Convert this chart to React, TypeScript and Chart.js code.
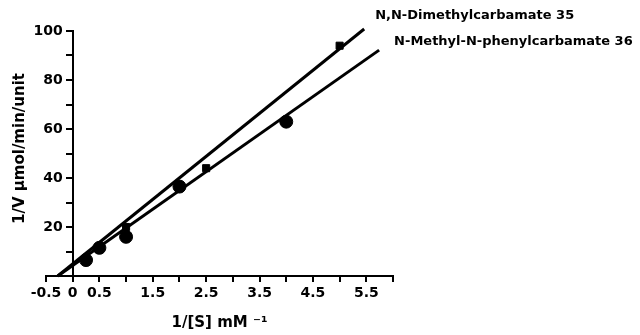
import React, { useEffect, useRef } from "react";
import { Chart, registerables } from "chart.js";

Chart.register(...registerables);

// Tick labels
const xTickLabels = [-0.5, 0, 0.5, 1.5, 2.5, 3.5, 4.5, 5.5];
const yTickLabels = [20, 40, 60, 80, 100];

// Series names
const seriesNames = ["N,N-Dimethylcarbamate 35", "N-Methyl-N-phenylcarbamate 36"];

// Measured points (1/[S], 1/V)
const dimethylX = [0.25, 0.5, 1, 2.5, 5];
const dimethylY = [6, 12, 20, 44, 94];
const phenylX = [0.25, 0.5, 1, 2, 4];
const phenylY = [6.5, 11.5, 16, 36.5, 63];

// Fitted lines (end points)
const dimethylFitX = [-0.28, 5.46];
const dimethylFitY = [0, 100.8];
const phenylFitX = [-0.28, 5.74];
const phenylFitY = [0, 92.2];

const xTitle = "1/[S] mM \u207B\u00B9";
const yTitle = "1/V \u00B5mol/min/unit";

const FONT = "DejaVu Sans";

const toPts = (xs: number[], ys: number[]) => xs.map((x, i) => ({ x, y: ys[i] }));

const annotatePlugin = {
  id: "annotate",
  afterDatasetsDraw(chart: any) {
    const { ctx, scales, chartArea } = chart;
    const x = scales.x;
    const y = scales.y;
    ctx.save();
    ctx.fillStyle = "#000";
    ctx.font = `bold 13px "${FONT}"`;
    ctx.textBaseline = "middle";
    ctx.textAlign = "left";
    const ends = [
      { px: dimethylFitX[1], py: dimethylFitY[1], dx: 11, dy: -13, text: seriesNames[0] },
      { px: phenylFitX[1], py: phenylFitY[1], dx: 15, dy: -8, text: seriesNames[1] },
    ];
    ends.forEach((e) => {
      ctx.fillText(e.text, x.getPixelForValue(e.px) + e.dx, y.getPixelForValue(e.py) + e.dy);
    });
    // y-axis title (reads bottom to top)
    ctx.font = `bold 15px "${FONT}"`;
    ctx.translate(20, (chartArea.top + chartArea.bottom) / 2 - 5);
    ctx.rotate(-Math.PI / 2);
    ctx.textAlign = "center";
    ctx.fillText(yTitle, 0, 0);
    ctx.restore();
  },
};

export default function App() {
  const ref = useRef<HTMLCanvasElement | null>(null);
  useEffect(() => {
    if (!ref.current) return;
    const tickFont = { family: FONT, size: 14, weight: "bold" as const };
    const chart = new Chart(ref.current, {
      type: "scatter",
      data: {
        datasets: [
          {
            label: seriesNames[0] + " fit",
            data: toPts(dimethylFitX, dimethylFitY),
            showLine: true,
            borderColor: "#000",
            borderWidth: 3,
            pointRadius: 0,
            clip: false as any,
          },
          {
            label: seriesNames[1] + " fit",
            data: toPts(phenylFitX, phenylFitY),
            showLine: true,
            borderColor: "#000",
            borderWidth: 3,
            pointRadius: 0,
            clip: false as any,
          },
          {
            label: seriesNames[0],
            data: toPts(dimethylX, dimethylY),
            pointStyle: "rect",
            pointRadius: 5,
            backgroundColor: "#000",
            borderColor: "#000",
          },
          {
            label: seriesNames[1],
            data: toPts(phenylX, phenylY),
            pointStyle: "circle",
            pointRadius: 6.5,
            backgroundColor: "#000",
            borderColor: "#000",
          },
        ],
      },
      options: {
        animation: false,
        responsive: false,
        layout: { padding: { left: 46, right: 247, top: 31, bottom: 0 } },
        plugins: { legend: { display: false }, tooltip: { enabled: false } },
        scales: {
          x: {
            type: "linear",
            position: "bottom",
            min: -0.5,
            max: 6,
            border: { display: true, color: "#000", width: 2 },
            grid: { drawOnChartArea: false, drawTicks: true, tickLength: 6, color: "#000", lineWidth: 2 },
            ticks: {
              stepSize: 0.5,
              autoSkip: false,
              maxRotation: 0,
              color: "#000",
              font: tickFont,
              padding: 3,
              callback: (v: any) => (xTickLabels.includes(Number(v)) ? String(v) : ""),
            },
            title: {
              display: true,
              text: xTitle,
              color: "#000",
              font: { family: FONT, size: 15, weight: "bold" },
              padding: { top: 2, bottom: 3 },
            },
            afterFit: (s: any) => {
              s.height = 59;
            },
          } as any,
          y: {
            type: "linear",
            position: { x: 0 } as any,
            min: 0,
            max: 100,
            border: { display: true, color: "#000", width: 2 },
            grid: { drawOnChartArea: false, drawTicks: true, tickLength: 6, color: "#000", lineWidth: 2 },
            ticks: {
              stepSize: 10,
              autoSkip: false,
              color: "#000",
              font: tickFont,
              padding: 4,
              callback: (v: any) => (yTickLabels.includes(Number(v)) ? String(v) : ""),
            },
            title: { display: false },
            afterUpdate: (s: any) => {
              // labels of an axis placed at x = 0 sit left of its tick marks
              if (s.__shiftPatched) return;
              s.__shiftPatched = true;
              const orig = s._computeLabelItems;
              s._computeLabelItems = function (ca: any) {
                const items = orig.call(this, ca);
                const shift = this.options.grid.tickLength + this.options.ticks.padding;
                items.forEach((it: any) => {
                  const t = it.options.translation;
                  it.options.translation = [t[0] - shift, t[1]];
                });
                return items;
              };
            },
          } as any,
        },
      },
      plugins: [annotatePlugin],
    });
    return () => chart.destroy();
  }, []);
  return (
    <div style={{ position: "absolute", left: 0, top: 0, width: 640, height: 335, background: "#fff" }}>
      <canvas ref={ref} width={640} height={335} />
    </div>
  );
}
